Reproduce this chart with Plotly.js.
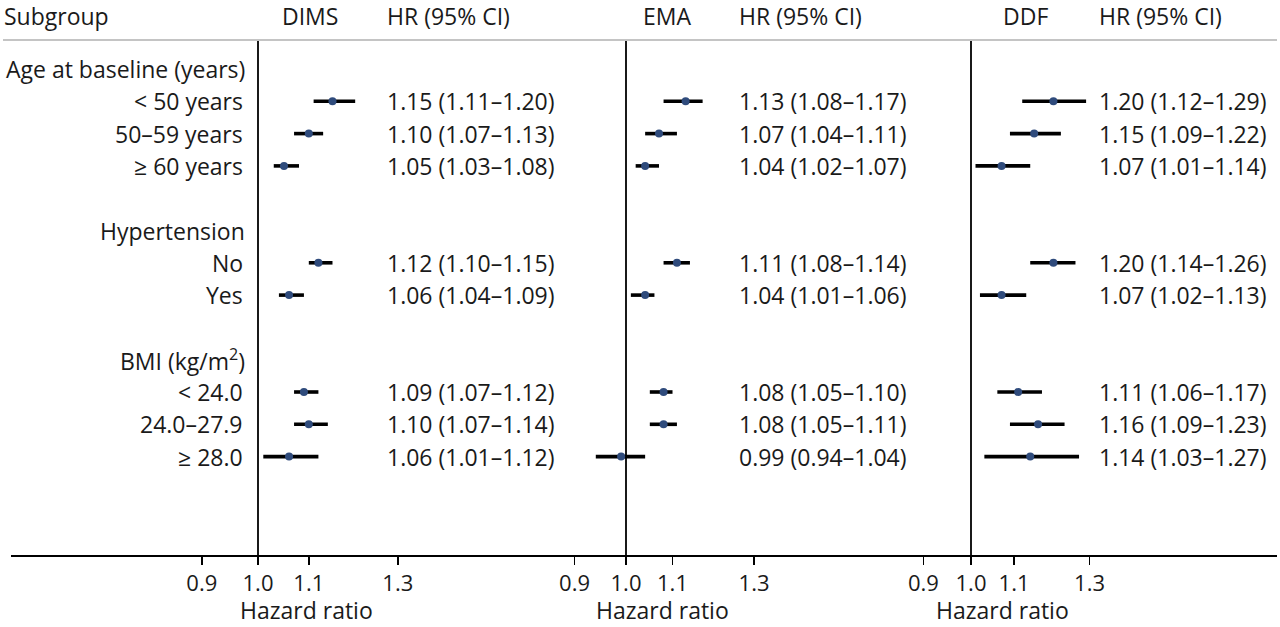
<!DOCTYPE html>
<html>
<head>
<meta charset="utf-8">
<script src="https://cdn.plot.ly/plotly-3.0.1.min.js"></script>
<style>html,body{margin:0;padding:0;background:#fff;}#chart{width:1280px;height:627px;}</style>
</head>
<body>
<div id="chart"></div>
<script>
// ---- data ----
const groups = ['Age at baseline (years)', 'Hypertension', 'BMI (kg/m<sup>2</sup>)'];
const subgroups = ['< 50 years', '50–59 years', '≥ 60 years', 'No', 'Yes', '< 24.0', '24.0–27.9', '≥ 28.0'];
const subgroupGroup = [0, 0, 0, 1, 1, 2, 2, 2];
const panelNames = ['DIMS', 'EMA', 'DDF'];
const dimsHR = [1.15, 1.10, 1.05, 1.12, 1.06, 1.09, 1.10, 1.06];
const dimsLo = [1.11, 1.07, 1.03, 1.10, 1.04, 1.07, 1.07, 1.01];
const dimsHi = [1.20, 1.13, 1.08, 1.15, 1.09, 1.12, 1.14, 1.12];
const emaHR = [1.13, 1.07, 1.04, 1.11, 1.04, 1.08, 1.08, 0.99];
const emaLo = [1.08, 1.04, 1.02, 1.08, 1.01, 1.05, 1.05, 0.94];
const emaHi = [1.17, 1.11, 1.07, 1.14, 1.06, 1.10, 1.11, 1.04];
const ddfHR = [1.20, 1.15, 1.07, 1.20, 1.07, 1.11, 1.16, 1.14];
const ddfLo = [1.12, 1.09, 1.01, 1.14, 1.02, 1.06, 1.09, 1.03];
const ddfHi = [1.29, 1.22, 1.14, 1.26, 1.13, 1.17, 1.23, 1.27];
const tickVals = [0.9, 1.0, 1.1, 1.3];
const tickText = ['0.9', '1.0', '1.1', '1.3'];
const nullLine = 1.0;

// ---- layout helpers ----
const W = 1280, H = 627;
const FONT = 'Open Sans, Noto Sans, sans-serif';
const TXT = '#1a1a1a';
const FS = 23;
const MARK = '#2f4b7c';

// row indices: group header, its items, then a blank row
const groupRow = [];
const subRow = [];
let r = 0;
groups.forEach((g, gi) => {
  groupRow.push(r); r++;
  subgroups.forEach((s, si) => { if (subgroupGroup[si] === gi) { subRow[si] = r; r++; } });
  r++;
});

const rowPx = 32.3, firstPx = 69;
const yTop = -firstPx / rowPx;
const yBottom = yTop + H / rowPx;
const pxToRow = p => (p - firstPx) / rowPx;

const panelData = [
  {hr: dimsHR, lo: dimsLo, hi: dimsHi},
  {hr: emaHR, lo: emaLo, hi: emaHi},
  {hr: ddfHR, lo: ddfLo, hi: ddfHi}
];
// per panel: pixel of 1.0, px per decade, axis domain (px)
const panelGeom = [
  {one: 258, dec: 1227.3, d0: 200, d1: 560, name: 310, hrx: 385, haz: 306},
  {one: 626, dec: 1123.7, d0: 570, d1: 930, name: 667, hrx: 737, haz: 662},
  {one: 971, dec: 1040.8, d0: 915, d1: 1275, name: 1025, hrx: 1097, haz: 1002}
];

const traces = [];
const layout = {
  width: W, height: H,
  margin: {l: 0, r: 0, t: 0, b: 0},
  paper_bgcolor: '#fff', plot_bgcolor: 'rgba(0,0,0,0)',
  showlegend: false,
  font: {family: FONT, size: FS, color: TXT},
  yaxis: {range: [yBottom, yTop], domain: [0, 1], visible: false, fixedrange: true},
  annotations: [],
  shapes: []
};

const axisY = 1 - 556 / H;
panelData.forEach((p, k) => {
  const g = panelGeom[k];
  const ax = k === 0 ? 'x' : 'x' + (k + 1);
  const axKey = k === 0 ? 'xaxis' : 'xaxis' + (k + 1);
  layout[axKey] = {
    type: 'log',
    domain: [g.d0 / W, g.d1 / W],
    range: [(g.d0 - g.one) / g.dec, (g.d1 - g.one) / g.dec],
    anchor: 'free', position: axisY,
    showgrid: false, zeroline: false, showline: false,
    ticks: 'outside', ticklen: 8, tickwidth: 1.5, tickcolor: '#000',
    tickvals: tickVals, ticktext: tickText,
    tickfont: {family: FONT, size: 22, color: TXT},
    fixedrange: true
  };
  // reference line at HR = 1
  traces.push({
    type: 'scatter', mode: 'lines', xaxis: ax, yaxis: 'y',
    x: [nullLine, nullLine], y: [pxToRow(41), pxToRow(556)],
    line: {color: '#000', width: 1.8}, hoverinfo: 'skip'
  });
  // CI lines
  const cx = [], cy = [];
  p.hr.forEach((v, i) => { cx.push(p.lo[i], p.hi[i], null); cy.push(subRow[i], subRow[i], null); });
  traces.push({
    type: 'scatter', mode: 'lines', xaxis: ax, yaxis: 'y',
    x: cx, y: cy, line: {color: '#000', width: 3.6}, hoverinfo: 'skip'
  });
  traces.push({
    type: 'scatter', mode: 'markers', xaxis: ax, yaxis: 'y',
    x: p.hr, y: subRow, marker: {color: MARK, size: 8, line: {width: 0}}
  });
  // header texts
  layout.annotations.push({
    xref: 'paper', yref: 'y', x: g.name / W, y: pxToRow(16), text: panelNames[k],
    showarrow: false, xanchor: 'center', yanchor: 'middle', font: {size: FS}
  });
  layout.annotations.push({
    xref: 'paper', yref: 'y', x: g.hrx / W, y: pxToRow(16), text: 'HR (95% CI)',
    showarrow: false, xanchor: 'left', yanchor: 'middle', font: {size: FS}
  });
  p.hr.forEach((v, i) => {
    layout.annotations.push({
      xref: 'paper', yref: 'y', x: g.hrx / W, y: subRow[i],
      text: v.toFixed(2) + ' (' + p.lo[i].toFixed(2) + '–' + p.hi[i].toFixed(2) + ')',
      showarrow: false, xanchor: 'left', yanchor: 'middle', font: {size: FS}
    });
  });
  layout.annotations.push({
    xref: 'paper', yref: 'paper', x: g.haz / W, y: 0, text: 'Hazard ratio',
    showarrow: false, xanchor: 'center', yanchor: 'bottom', borderpad: 0, font: {size: FS}
  });
});

// subgroup column
layout.annotations.push({
  xref: 'paper', yref: 'y', x: 2 / W, y: pxToRow(16), text: 'Subgroup',
  showarrow: false, xanchor: 'left', yanchor: 'middle', font: {size: FS}
});
groups.forEach((g, gi) => {
  layout.annotations.push({
    xref: 'paper', yref: 'y', x: 247 / W, y: groupRow[gi], text: g,
    showarrow: false, xanchor: 'right', yanchor: 'middle', font: {size: FS}
  });
});
subgroups.forEach((s, si) => {
  layout.annotations.push({
    xref: 'paper', yref: 'y', x: 245 / W, y: subRow[si], text: s,
    showarrow: false, xanchor: 'right', yanchor: 'middle', font: {size: FS}
  });
});

// header rule and baseline rule
layout.shapes.push({type: 'line', xref: 'paper', yref: 'y', x0: 3 / W, x1: 1277 / W,
  y0: pxToRow(40), y1: pxToRow(40), line: {color: '#b0b0b0', width: 1.5}});
layout.shapes.push({type: 'line', xref: 'paper', yref: 'y', x0: 11 / W, x1: 1277 / W,
  y0: pxToRow(556), y1: pxToRow(556), line: {color: '#000', width: 1.8}});

Plotly.newPlot('chart', traces, layout, {displayModeBar: false, staticPlot: true});
</script>
</body>
</html>
